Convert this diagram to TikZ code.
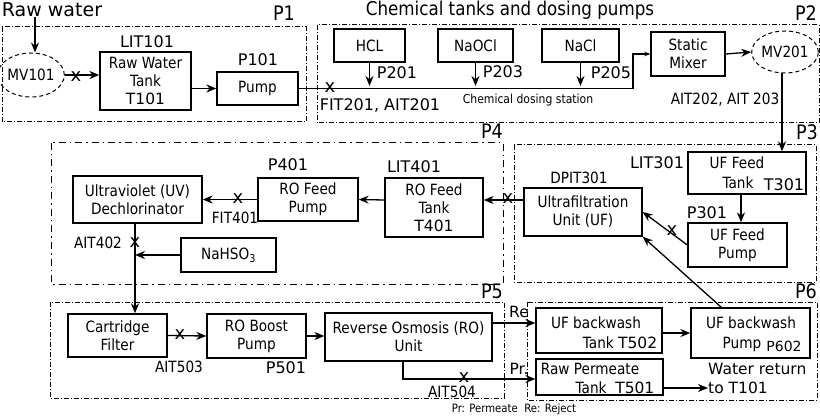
\documentclass[tikz,border=0pt]{standalone}
\usepackage{fontspec}
\setmainfont{DejaVu Sans}
\newfontfamily\cond{DejaVu Sans}[FakeStretch=0.88]
\usetikzlibrary{arrows.meta,calc,shapes.geometric}
\begin{document}
\begin{tikzpicture}[x=1pt,y=-1pt,
  box/.style={draw,line width=1.3pt,align=center,inner sep=0pt,font=\cond\fontsize{15.5}{18}\selectfont},
  btxt/.style={inner sep=0pt,font=\cond\fontsize{15.5}{18}\selectfont},
  lbl/.style={inner sep=0pt,font=\fontsize{16}{19}\selectfont},
  clbl/.style={inner sep=0pt,font=\cond\fontsize{15.5}{18}\selectfont},
  plbl/.style={inner sep=0pt,font=\cond\fontsize{20}{21}\selectfont},
  valve/.style={draw,ellipse,dash pattern=on 4pt off 3pt,line width=1pt,inner sep=0pt,font=\cond\fontsize{15.5}{18}\selectfont},
  zone/.style={line width=1pt,dash pattern=on 5pt off 2pt on 1pt off 2pt},
  zonel/.style={line width=1pt,dash pattern=on 7pt off 4pt on 1.5pt off 4pt},
  arr/.style={line width=1.3pt,-{Stealth[length=10pt,width=8pt]}},
  sarr/.style={line width=1.3pt,-{Stealth[length=6pt,width=4.5pt]}},
  xm/.style={inner sep=0pt,font=\fontsize{18}{18}\selectfont}]
\useasboundingbox (0,0) rectangle (820,417);

% zones
\draw[zone] (2,27) rectangle (306,122);
\draw[zone] (317,25) rectangle (819,123);
\draw[zone] (514,145) rectangle (816,282);
\draw[zonel] (51,143) rectangle (503,284);
\draw[zone] (50,302) rectangle (504,398);
\draw[zone] (527,302) rectangle (817,400);

% titles and zone labels
\node[inner sep=0pt,font=\fontsize{19}{20}\selectfont] (rw) at (52,10) {Raw water};
\node[inner sep=0pt,font=\cond\fontsize{19}{20}\selectfont] (ttl) at (510,10) {Chemical tanks and dosing pumps};
\node[plbl] (pl1) at (284,13) {P1};
\node[plbl] (pl2) at (806,13) {P2};
\node[plbl] (pl3) at (807,132) {P3};
\node[plbl] (pl4) at (492,131) {P4};
\node[plbl] (pl5) at (492,291) {P5};
\node[plbl] (pl6) at (806,291) {P6};

% P1
\node[valve,minimum width=52pt,minimum height=44pt] (mv101) at (31,75) {MV101};
\node[box,minimum width=91pt,minimum height=58pt] (t101) at (145.5,81) {Raw Water\\Tank\\{\rmfamily T101}};
\node[box,minimum width=81pt,minimum height=33pt] (p101) at (257.5,88.5) {Pump};
\node[lbl] (lit101) at (147,42) {LIT101};
\node[lbl] (lp101) at (258,60) {P101};

% P2
\node[box,minimum width=71pt,minimum height=33pt] (hcl) at (369.5,45.5) {HCL};
\node[box,minimum width=75pt,minimum height=33pt] (naocl) at (475.5,45.5) {NaOCl};
\node[box,minimum width=77pt,minimum height=33pt] (nacl) at (580.5,45.5) {NaCl};
\node[box,minimum width=74pt,minimum height=44pt] (mixer) at (688,54) {Static\\Mixer};
\node[valve,minimum width=54pt,minimum height=42pt] (mv201) at (785,52) {MV201};
\node[lbl] (lp201) at (397,73) {P201};
\node[lbl] (lp203) at (503,72) {P203};
\node[lbl] (lp205) at (611,73) {P205};
\node[lbl] (fit201) at (380,105) {FIT201, AIT201};
\node[inner sep=0pt,font=\cond\fontsize{12.3}{14}\selectfont] (cds) at (528,100) {Chemical dosing station};
\node[clbl] (ait202) at (725,100) {AIT202, AIT 203};
\coordinate (dose) at (0,86);

% P3
\node[box,minimum width=118pt,minimum height=42pt] (uftank) at (747,173) {};
\node[btxt] (uft1) at (737,163) {UF Feed};
\node[btxt] (uft2) at (738,183) {Tank};
\node[inner sep=0pt,font=\fontsize{16}{18}\selectfont] (uft3) at (784,185) {T301};
\node[box,minimum width=99pt,minimum height=44pt] (ufpump) at (737.5,245) {UF Feed\\Pump};
\node[box,minimum width=118pt,minimum height=48pt] (uf) at (583,212) {Ultrafiltration\\Unit (UF)};
\node[lbl] (lit301) at (657,163) {LIT301};
\node[clbl] (dpit301) at (579,178) {DPIT301};
\node[lbl] (lp301) at (707,213) {P301};

% P4
\node[box,minimum width=98pt,minimum height=59pt] (rotank) at (434,207.5) {RO Feed\\Tank\\{\rmfamily T401}};
\node[box,minimum width=100pt,minimum height=43pt] (ropump) at (308,199.5) {RO Feed\\Pump};
\node[box,minimum width=129pt,minimum height=47pt] (uv) at (137.5,199.5) {Ultraviolet (UV)\\Dechlorinator};
\node[box,minimum width=95pt,minimum height=34pt] (nahso3) at (228.5,255) {NaHSO\textsubscript{3}};
\node[lbl] (lit401) at (414,167) {LIT401};
\node[lbl] (lp401) at (288,165) {P401};
\node[clbl] (fit401) at (235,218) {FIT401};
\node[clbl] (ait402) at (98,243) {AIT402};
\coordinate (vline) at (135,223);

% P5
\node[box,minimum width=99pt,minimum height=43pt] (cart) at (117.5,335.5) {Cartridge\\Filter};
\node[box,minimum width=99pt,minimum height=44pt] (boost) at (256.5,336) {RO Boost\\Pump};
\node[box,minimum width=167pt,minimum height=48pt] (ro) at (408.5,337) {Reverse Osmosis (RO)\\Unit};
\node[clbl] (ait503) at (179,367) {AIT503};
\node[lbl] (lp501) at (286,368) {P501};
\node[clbl] (ait504) at (452,392) {AIT504};
\node[inner sep=0pt,font=\fontsize{15.5}{18}\selectfont] (re) at (519,312) {Re};
\node[inner sep=0pt,font=\fontsize{15.5}{18}\selectfont] (pr) at (519,369) {Pr.};
\node[inner sep=0pt,font=\cond\fontsize{11.5}{13}\selectfont] (legend) at (514,409) {Pr: Permeate\ \ Re: Reject};

% P6
\node[box,minimum width=126pt,minimum height=45pt] (ufbt) at (599,330.5) {};
\node[btxt] (ufbt1) at (596,323) {UF backwash};
\node[btxt] (ufbt2) at (620,343) {Tank {\rmfamily T502}};
\node[box,minimum width=119pt,minimum height=50pt] (ufbp) at (750.5,333) {};
\node[btxt] (ufbp1) at (751,323) {UF backwash};
\node[btxt] (ufbp2) at (742,344) {Pump};
\node[inner sep=0pt,font=\fontsize{14}{16}\selectfont] (ufbp3) at (784,346) {P602};
\node[box,minimum width=127pt,minimum height=36pt] (rawperm) at (599.5,377) {};
\node[btxt] (rp1) at (590,369) {Raw Permeate};
\node[btxt] (rp2) at (615,388) {Tank\ \ {\rmfamily T501}};
\node[inner sep=0pt,font=\fontsize{15.5}{18}\selectfont,anchor=west] (ret1) at (708,369) {Water return};
\node[inner sep=0pt,font=\fontsize{15.5}{18}\selectfont,anchor=west] (ret2) at (708,388) {to T101};

% connectors P1/P2
\draw[arr] (rw.south -| 35,0) -- (35,0 |- mv101.north);
\draw[arr] (mv101.east) -- (mv101.east -| t101.west);
\draw[arr] (t101.east |- p101.west) -- (p101.west);
\draw[sarr] (p101.east) -- (633,88.5) |- (mixer.west);
\draw[arr] (hcl.south) -- (hcl.south |- dose);
\draw[arr] (naocl.south) -- (naocl.south |- dose);
\draw[arr] (nacl.south) -- (nacl.south |- dose);
\draw[arr] (mixer.east) -- (mv201.west);
\draw[arr] ([xshift=-3pt]mv201.south) -- ([xshift=-3pt]mv201.south |- uftank.north);

% P3
\draw[arr] ([xshift=-6pt]uftank.south) -- ([xshift=-6pt]uftank.south |- ufpump.north);
\draw[arr] (ufpump.west) -- (uf.east);
\draw[arr] ([xshift=31pt]ufbp.north west) -- (uf.south east);
\draw[arr] ([yshift=12pt]uf.west) -- ([yshift=12pt]uf.west -| rotank.east);

% P4
\draw[arr] ([yshift=7.5pt]rotank.west) -- (ropump.east);
\draw[arr] (ropump.west) -- (uv.east);
\draw[arr] (vline |- uv.south) -- (vline |- cart.north);
\draw[arr] (nahso3.west) -- (nahso3.west -| vline);

% P5/P6
\draw[arr] (cart.east) -- (boost.west);
\draw[arr] (boost.east) -- (boost.east -| ro.west);
\draw[arr] ([yshift=14pt]ro.east) -- ([yshift=14pt]ro.east -| ufbt.west);
\draw[arr] ([xshift=-5.5pt]ro.south) |- ([yshift=-2pt]rawperm.west);
\draw[arr] (ufbt.east |- ufbp.west) -- (ufbp.west);
\draw[arr] ([yshift=-11pt]rawperm.east) -- (ret2.west);

% x marks
\node[xm] (x1) at (76,77) {x};
\node[xm] (x2) at (330,88) {x};
\node[xm] (x3) at (238,199) {x};
\node[xm] (x4) at (508,199) {x};
\node[xm] (x5) at (672,231) {x};
\node[xm] (x6) at (135,243) {x};
\node[xm] (x7) at (180,335) {x};
\node[xm] (x8) at (464,378) {x};
\end{tikzpicture}
\end{document}
